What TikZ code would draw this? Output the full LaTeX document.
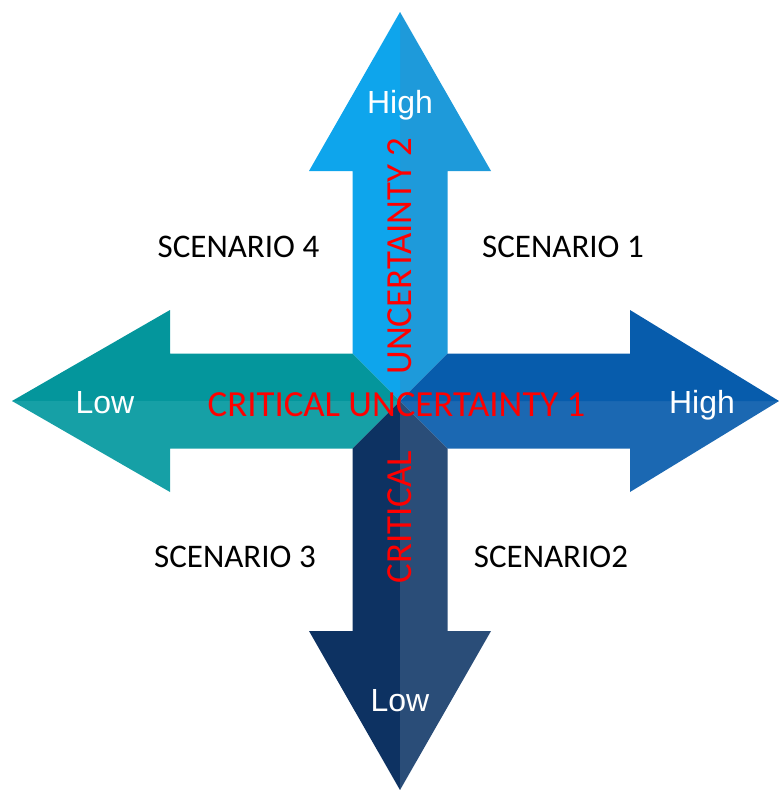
\documentclass[tikz,border=0pt]{standalone}
\usepackage{fontspec}
\setmainfont{Carlito}
\newfontfamily\arialfont{Liberation Sans}
\usepackage{tikz}
\definecolor{upA}{RGB}{14,165,236}
\definecolor{upB}{RGB}{30,154,218}
\definecolor{leftA}{RGB}{4,150,156}
\definecolor{leftB}{RGB}{22,160,166}
\definecolor{rightA}{RGB}{7,92,172}
\definecolor{rightB}{RGB}{27,104,178}
\definecolor{downA}{RGB}{13,50,98}
\definecolor{downB}{RGB}{42,77,120}
\tikzset{
pics/arm/.style n args={3}{code={
  \fill[#1] (0,0) -- (-47.5,47.5) -- (-47.5,230) -- (-91,230) -- (0,#3) -- cycle;
  \fill[#2] (0,0) -- (47.5,47.5) -- (47.5,230) -- (91,230) -- (0,#3) -- cycle;
  }},
level/.style={
  inner sep=0pt, text depth=0pt, text height=22.9pt,
  text=white, font=\arialfont\fontsize{32}{36}\selectfont
  },
crit/.style={
  inner sep=0pt, text depth=0pt, text height=23.7pt,
  text=red, font=\fontsize{36.8}{40}\selectfont
  },
scen/.style={
  inner sep=0pt, text depth=0pt, text height=21.3pt,
  font=\fontsize{33}{37}\selectfont
  }
}
\begin{document}
\begin{tikzpicture}[x=1pt,y=-1pt]
\useasboundingbox (0,0) rectangle (779,790);
% the arrows
\path
  (400,401) pic[rotate=180] {arm={upB}{upA}{389}}
  (400,401) pic[rotate=-90] {arm={leftA}{leftB}{388}}
  (400,401) pic[rotate=90] {arm={rightB}{rightA}{379}}
  (400,401) pic {arm={downA}{downB}{389}};

% the levels
\node[level] (highUp) at (400,102) {High};
\node[level] (lowLeft) at (105,402) {Low};
\node[level] (highRight) at (702,402) {High};
\node[level] (lowDown) at (400,700) {Low};

% the uncertainties
\node[crit] (critOne) at (396.5,405) {CRITICAL UNCERTAINTY 1};
\node[crit,rotate=90] (uncTwo) at (400,256) {UNCERTAINTY 2};
\node[crit,rotate=90] (critTwo) at (400,517) {CRITICAL};

% the scenarios
\node[scen] (scenFour) at (238.5,247) {SCENARIO 4};
\node[scen] (scenOne) at (563,247) {SCENARIO 1};
\node[scen] (scenThree) at (235,557) {SCENARIO 3};
\node[scen] (scenTwo) at (551,557) {SCENARIO2};
\end{tikzpicture}
\end{document}
